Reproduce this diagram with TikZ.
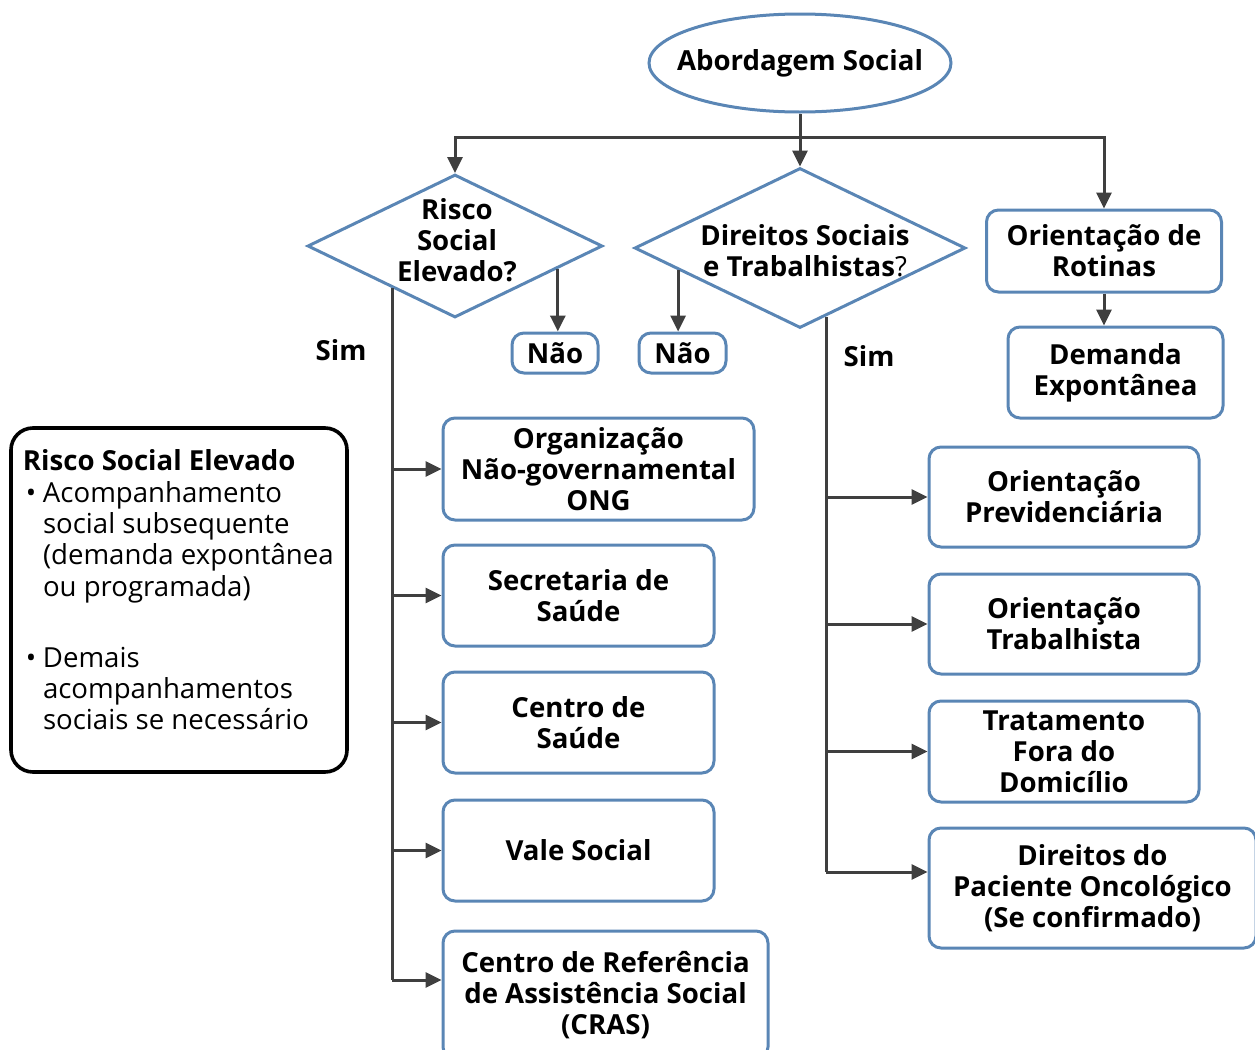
\documentclass[tikz,border=0pt]{standalone}
\usepackage{fontspec}
\setmainfont{Open Sans}
\usetikzlibrary{shapes.geometric,arrows.meta,calc}
\definecolor{edgeblue}{HTML}{5A86B5}
\definecolor{wiregray}{HTML}{3F3F3F}

\begin{document}
\begin{tikzpicture}[x=0.5pt,y=-0.5pt,font=\fontsize{13.8}{15.6}\selectfont\bfseries]
  \tikzstyle{box}=[draw=edgeblue,line width=1.5pt,rounded corners=6pt,align=center,inner sep=0pt]
  \tikzstyle{decision}=[diamond,draw=edgeblue,line width=1.5pt,inner sep=0pt]
  \tikzstyle{wire}=[draw=wiregray,line width=1.5pt]
  \tikzstyle{arr}=[wire,-{Triangle[length=8pt,width=7.5pt]}]
  \useasboundingbox (0,0) rectangle (1255,1050);

  \node[ellipse,draw=edgeblue,line width=1.5pt,inner sep=0pt,minimum width=151pt,minimum height=49pt] (A) at (800,63) {\makebox[0pt]{Abordagem Social}};

  \node[decision,minimum width=147.5pt,minimum height=71.5pt] (R1) at (455,246) {};
  \node[align=center] (R1t) at (457,240) {Risco\\Social\\Elevado?};
  \node[decision,minimum width=165.5pt,minimum height=80pt] (D2) at (800,248) {};
  \node[align=center] (D2t) at (805,251) {Direitos Sociais\\e Trabalhistas{\mdseries ?}};
  \node[box,minimum width=117.5pt,minimum height=41pt] (O1) at (1104,251) {Orientação de\\Rotinas};
  \node[box,minimum width=107.5pt,minimum height=45.5pt] (DE) at (1115.5,372.5) {Demanda\\Expontânea};

  \node[box,minimum width=43pt,minimum height=20pt] (N1) at (555,353) {Não};
  \node[box,minimum width=43.5pt,minimum height=20pt] (N2) at (682.5,353) {Não};
  \node (S1) at (341,350) {Sim};
  \node (S2) at (869,356) {Sim};

  \node[box,minimum width=155.5pt,minimum height=51pt] (B1) at (598.5,469) {Organização\\Não-governamental\\ONG};
  \node[box,minimum width=135.5pt,minimum height=50.5pt] (B2) at (578.5,595.5) {Secretaria de\\Saúde};
  \node[box,minimum width=135.5pt,minimum height=50.5pt] (B3) at (578.5,722.5) {Centro de\\Saúde};
  \node[box,minimum width=135.5pt,minimum height=50.5pt] (B4) at (578.5,850.5) {Vale Social};
  \node[box,minimum width=162.5pt,minimum height=64pt] (B5) at (605.5,995) {Centro de Referência\\de Assistência Social\\(CRAS)};

  \node[box,minimum width=135pt,minimum height=50pt] (C1) at (1064,497) {Orientação\\Previdenciária};
  \node[box,minimum width=135pt,minimum height=50pt] (C2) at (1064,624) {Orientação\\Trabalhista};
  \node[box,minimum width=135pt,minimum height=50.5pt] (C3) at (1064,751.5) {Tratamento\\Fora do\\Domicílio};
  \node[box,minimum width=163.5pt,minimum height=60pt] (C4) at (1092.5,888) {Direitos do\\Paciente Oncológico\\(Se confirmado)};

  \node[draw=black,line width=1.8pt,rounded corners=11pt,inner xsep=6pt,inner ysep=0pt,font=\fontsize{13.8}{15.65}\selectfont\mdseries] (L) at (179,600) {%
    \begin{minipage}[c][172pt][t]{156pt}\raggedright
    \vspace{11pt}
    \textbf{Risco Social Elevado}\par
    \makebox[10pt][l]{\hspace{1.5pt}\textbullet}\parbox[t]{146pt}{Acompanhamento\\social subsequente\\(demanda expontânea\\ou programada)}\par
    \vspace{21pt}
    \makebox[10pt][l]{\hspace{1.5pt}\textbullet}\parbox[t]{146pt}{Demais\\acompanhamentos\\sociais se necessário}\par
    \end{minipage}};

  \coordinate (bar) at (800,137);
  \draw[arr] (A.south) -- (D2.north);
  \draw[arr] (bar) -| (R1.north);
  \draw[arr] (bar) -| (O1.north);
  \draw[arr] (O1.south) -- (O1.south |- DE.north);

  \coordinate (n1) at ($(R1.east)!0.31!(R1.south)$);
  \coordinate (n2) at ($(D2.west)!0.27!(D2.south)$);
  \draw[arr] (n1) -- (n1 |- N1.north);
  \draw[arr] (n2) -- (n2 |- N2.north);

  \coordinate (t1) at ($(R1.west)!0.578!(R1.south)$);
  \coordinate (b5in) at ($(B5.west)+(0,-15)$);
  \draw[wire] (t1) -- (t1 |- b5in);
  \draw[arr] (t1 |- B1.west) -- (B1.west);
  \draw[arr] (t1 |- B2.west) -- (B2.west);
  \draw[arr] (t1 |- B3.west) -- (B3.west);
  \draw[arr] (t1 |- B4.west) -- (B4.west);
  \draw[arr] (t1 |- b5in) -- (b5in);

  \coordinate (t2) at ($(D2.east)!0.843!(D2.south)$);
  \coordinate (c4in) at ($(C4.west)+(0,-16)$);
  \draw[wire] (t2) -- (t2 |- c4in);
  \draw[arr] (t2 |- C1.west) -- (C1.west);
  \draw[arr] (t2 |- C2.west) -- (C2.west);
  \draw[arr] (t2 |- C3.west) -- (C3.west);
  \draw[arr] (t2 |- c4in) -- (c4in);
\end{tikzpicture}
\end{document}
